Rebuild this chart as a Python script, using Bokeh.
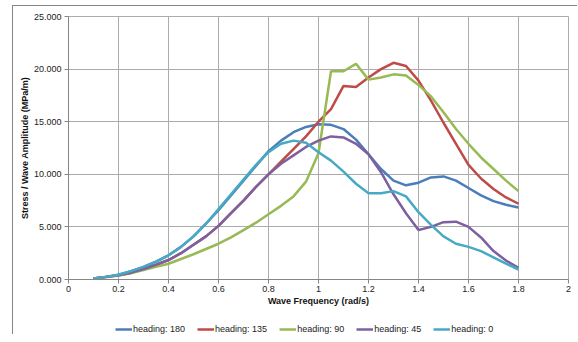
from bokeh.plotting import figure
from bokeh.layouts import column
from bokeh.models import Legend, LegendItem, FixedTicker, NumeralTickFormatter, Range1d
from bokeh.embed import file_html
from bokeh.resources import INLINE

freq = [0.10, 0.15, 0.20, 0.25, 0.30, 0.35, 0.40, 0.45, 0.50, 0.55, 0.60, 0.65,
        0.70, 0.75, 0.80, 0.85, 0.90, 0.95, 1.00, 1.05, 1.10, 1.15, 1.20, 1.25,
        1.30, 1.35, 1.40, 1.45, 1.50, 1.55, 1.60, 1.65, 1.70, 1.75, 1.80]

h180 = [0.1, 0.25, 0.45, 0.8, 1.2, 1.7, 2.3, 3.1, 4.1, 5.3, 6.6, 8.0,
        9.4, 10.8, 12.2, 13.2, 14.0, 14.5, 14.75, 14.7, 14.3, 13.3, 11.9, 10.5,
        9.4, 8.95, 9.2, 9.7, 9.8, 9.4, 8.7, 8.0, 7.45, 7.1, 6.85]

h135 = [0.1, 0.25, 0.4, 0.65, 1.0, 1.4, 1.85, 2.5, 3.3, 4.1, 5.1, 6.3,
        7.5, 8.8, 10.0, 11.2, 12.4, 13.6, 15.0, 16.2, 18.4, 18.3, 19.2, 20.0,
        20.6, 20.3, 18.9, 17.0, 14.9, 12.9, 10.9, 9.6, 8.6, 7.8, 7.2]

h90 = [0.1, 0.22, 0.38, 0.6, 0.9, 1.2, 1.5, 1.95, 2.4, 2.9, 3.4, 4.0,
       4.7, 5.4, 6.2, 7.0, 7.9, 9.3, 12.0, 19.8, 19.8, 20.5, 19.0, 19.2,
       19.5, 19.4, 18.5, 17.4, 15.9, 14.3, 12.9, 11.6, 10.5, 9.4, 8.4]

h45 = [0.1, 0.25, 0.4, 0.65, 1.0, 1.4, 1.85, 2.5, 3.3, 4.1, 5.1, 6.3,
       7.5, 8.8, 10.0, 11.0, 11.8, 12.6, 13.2, 13.6, 13.5, 12.9, 11.9, 10.2,
       8.1, 6.3, 4.7, 5.0, 5.45, 5.5, 5.0, 4.0, 2.7, 1.8, 1.1]

h0 = [0.1, 0.25, 0.45, 0.8, 1.2, 1.7, 2.3, 3.1, 4.1, 5.3, 6.7, 8.1,
      9.5, 10.9, 12.1, 12.9, 13.2, 13.0, 12.1, 11.3, 10.25, 9.1, 8.2, 8.2,
      8.4, 7.9, 6.4, 5.2, 4.1, 3.4, 3.1, 2.7, 2.1, 1.5, 0.95]

series = [("heading: 180", h180, "#4A7EBB"),
          ("heading: 135", h135, "#BE4B48"),
          ("heading: 90", h90, "#98B954"),
          ("heading: 45", h45, "#7D60A0"),
          ("heading: 0", h0, "#46AAC5")]

x_ticks = [0, 0.2, 0.4, 0.6, 0.8, 1, 1.2, 1.4, 1.6, 1.8, 2]
y_ticks = [0, 5, 10, 15, 20, 25]

FONT = "Liberation Sans"
GRID = "#ababab"
AXIS = "#868686"

p = figure(width=564, height=305, x_range=Range1d(0, 2), y_range=Range1d(0, 25),
           output_backend="svg", toolbar_location=None,
           min_border_left=55, min_border_right=9, min_border_top=10, min_border_bottom=32)

p.outline_line_color = GRID
p.xgrid.grid_line_color = GRID
p.ygrid.grid_line_color = GRID
p.xaxis.ticker = FixedTicker(ticks=x_ticks)
p.yaxis.ticker = FixedTicker(ticks=y_ticks)
p.xaxis.formatter = NumeralTickFormatter(format="0.[0]")
p.yaxis.formatter = NumeralTickFormatter(format="0.000")

for ax in (p.xaxis, p.yaxis):
    ax.axis_line_color = AXIS
    ax.major_tick_line_color = AXIS
    ax.major_tick_out = 4
    ax.major_tick_in = 0
    ax.minor_tick_line_color = None
    ax.major_label_text_font = FONT
    ax.major_label_text_font_size = "9px"
    ax.major_label_text_color = "#222222"
    ax.axis_label_text_font = FONT
    ax.axis_label_text_font_size = "9px"
    ax.axis_label_text_font_style = "bold"
    ax.axis_label_text_color = "#111111"

p.xaxis.axis_label = "Wave Frequency (rad/s)"
p.yaxis.axis_label = "Stress / Wave Amplitude (MPa/m)"
p.xaxis.major_label_standoff = 2
p.xaxis.axis_label_standoff = 1
p.yaxis.major_label_standoff = 3
p.yaxis.axis_label_standoff = 1

for name, vals, color in series:
    p.line(freq, vals, line_color=color, line_width=2.5)

# legend strip below the chart (its own lines fall outside its empty range)
lg = figure(width=564, height=23, x_range=Range1d(0, 2), y_range=Range1d(100, 101),
            output_backend="svg", toolbar_location=None,
            x_axis_location=None, y_axis_location=None,
            min_border_left=0, min_border_right=0, min_border_top=0, min_border_bottom=0)
lg.grid.visible = False
lg.outline_line_color = None

items = []
for name, vals, color in series:
    r = lg.line(freq, vals, line_color=color, line_width=2.5)
    items.append(LegendItem(label=name, renderers=[r]))

legend = Legend(items=items, orientation="horizontal", location=(47, 0),
                glyph_width=17, glyph_height=10, label_standoff=1, spacing=12,
                padding=0, margin=0, border_line_color=None, background_fill_alpha=0,
                label_text_font=FONT, label_text_font_size="9px", label_text_color="#222222",
                label_height=10)
lg.add_layout(legend)

layout = column(p, lg, spacing=0)
layout.styles = {"margin-left": "12px", "margin-top": "5px",
                 "border-left": "1px solid #868686", "border-top": "1px solid #868686"}

open("out.html", "w").write(file_html(layout, INLINE))
